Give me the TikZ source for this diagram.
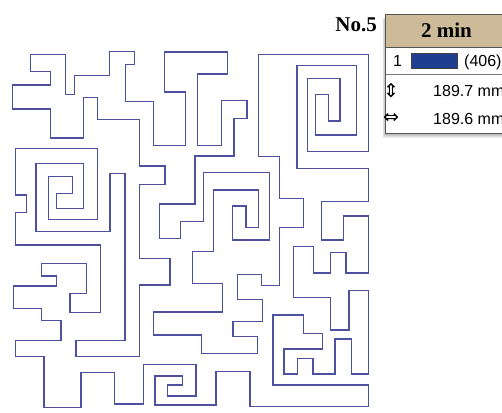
\documentclass[tikz,border=0pt]{standalone}
\usepackage{fontspec}
\setmainfont{Liberation Serif}
\setsansfont{Liberation Sans}
\newfontfamily\symfont{DejaVu Sans}
\definecolor{mazeblue}{RGB}{78,80,160}
\definecolor{headtan}{RGB}{204,186,152}
\definecolor{swatchblue}{RGB}{30,62,145}
\definecolor{boxgray}{RGB}{85,85,85}
\begin{document}
\begin{tikzpicture}[x=1pt,y=-1pt,
  maze/.style={draw=mazeblue,line width=1.15pt,line join=miter},
  rowtext/.style={font=\sffamily\fontsize{16}{16}\selectfont,inner sep=0pt,anchor=base west},
  symtext/.style={font=\symfont\fontsize{19}{19}\selectfont,inner sep=0pt},
  titletext/.style={font=\bfseries\fontsize{21}{21}\selectfont,inner sep=0pt}]
\useasboundingbox (0,0) rectangle (502,412);
\clip (0,0) rectangle (502,412);
\fill[white] (0,0) rectangle (502,412);
% maze: one closed line
\draw[maze] (153.5,145.5) -- (185.5,145.5) -- (185.5,92) -- (164.5,92) -- (164.5,52) -- (227.5,52) -- (227.5,74) -- (197.5,74) -- (197.5,145.5) -- (221.5,145.5) -- (221.5,100.5) -- (247,100.5) -- (247,118.5) -- (234,118.5) -- (234,156) -- (195,156) -- (195,204) -- (159.5,204) -- (159.5,238.5) -- (180.5,238.5) -- (180.5,221.5) -- (203.5,221.5) -- (203.5,172.5) -- (269.5,172.5) -- (269.5,240) -- (232.5,240) -- (232.5,206) -- (246,206) -- (246,227.5) -- (258.5,227.5) -- (258.5,190) -- (213.5,190) -- (213.5,251.5) -- (192.5,251.5) -- (192.5,283.5) -- (222.5,283.5) -- (222.5,312) -- (153.5,312) -- (153.5,335) -- (201.5,335) -- (201.5,353.5) -- (257.5,353.5) -- (257.5,336.5) -- (233,336.5) -- (233,321.5) -- (262.5,321.5) -- (262.5,299.5) -- (237.5,299.5) -- (237.5,274.5) -- (261.5,274.5) -- (261.5,285.5) -- (279.5,285.5) -- (279.5,227.5) -- (303.5,227.5) -- (303.5,198.5) -- (279.5,198.5) -- (279.5,156.5) -- (258.5,156.5) -- (258.5,54.5) -- (368.5,54.5) -- (368.5,151.5) -- (307.5,151.5) -- (307.5,78.5) -- (340,78.5) -- (340,121) -- (328.5,121) -- (328.5,94.5) -- (315.5,94.5) -- (315.5,135) -- (356.5,135) -- (356.5,65.5) -- (297,65.5) -- (297,168.5) -- (368.5,168.5) -- (368.5,201.5) -- (321.5,201.5) -- (321.5,240) -- (343.5,240) -- (343.5,216) -- (368.5,216) -- (368.5,273) -- (346,273) -- (346,252.5) -- (330.5,252.5) -- (330.5,273) -- (313.5,273) -- (313.5,246.5) -- (293.5,246.5) -- (293.5,297.5) -- (330.5,297.5) -- (330.5,330) -- (349,330) -- (349,290.5) -- (368.5,290.5) -- (368.5,374) -- (351.5,374) -- (351.5,339) -- (335,339) -- (335,374) -- (313,374) -- (313,358.5) -- (297.5,358.5) -- (297.5,374) -- (284,374) -- (284,349) -- (322.5,349) -- (322.5,333.5) -- (303.5,333.5) -- (303.5,315) -- (273,315) -- (273,385) -- (368.5,385) -- (368.5,406.5) -- (250,406.5) -- (250,371.5) -- (216,371.5) -- (216,405) -- (155,405) -- (155,376) -- (182.5,376) -- (182.5,385) -- (167.5,385) -- (167.5,396) -- (196,396) -- (196,364.5) -- (143.5,364.5) -- (143.5,404) -- (114.5,404) -- (114.5,372.5) -- (81,372.5) -- (81,407.5) -- (44,407.5) -- (44,356.5) -- (15.5,356.5) -- (15.5,340.5) -- (61,340.5) -- (61,320.5) -- (41.5,320.5) -- (41.5,308.5) -- (13.5,308.5) -- (13.5,286) -- (56.5,286) -- (56.5,276) -- (41.5,276) -- (41.5,263.5) -- (86.5,263.5) -- (86.5,293.5) -- (70,293.5) -- (70,312.5) -- (100.5,312.5) -- (100.5,245) -- (15.5,245) -- (15.5,212.5) -- (26.5,212.5) -- (26.5,195) -- (15.5,195) -- (15.5,148.5) -- (97.5,148.5) -- (97.5,219.5) -- (48.5,219.5) -- (48.5,176.5) -- (72.5,176.5) -- (72.5,193.5) -- (56.5,193.5) -- (56.5,208.5) -- (83.5,208.5) -- (83.5,163.5) -- (36,163.5) -- (36,231.5) -- (110,231.5) -- (110,173.5) -- (125,173.5) -- (125,340.5) -- (76,340.5) -- (76,356.5) -- (139.5,356.5) -- (139.5,285) -- (170,285) -- (170,258.5) -- (139.5,258.5) -- (139.5,184.5) -- (165,184.5) -- (165,166) -- (139.5,166) -- (139.5,119.5) -- (97.5,119.5) -- (97.5,97.5) -- (83.5,97.5) -- (83.5,138) -- (50.5,138) -- (50.5,109) -- (12.5,109) -- (12.5,85) -- (50.5,85) -- (50.5,71.5) -- (30.5,71.5) -- (30.5,54.5) -- (65.5,54.5) -- (65.5,94.5) -- (74.5,94.5) -- (74.5,75.5) -- (109.5,75.5) -- (109.5,51.5) -- (134.5,51.5) -- (134.5,64.5) -- (125.5,64.5) -- (125.5,101.5) -- (153.5,101.5) -- cycle;
% legend box shadow
\foreach \i in {1,...,5}
  \fill[black,opacity=0.07] (385.7-0.6*\i,14.3+0.9*\i) rectangle (520,133.3+0.9*\i);
\fill[white] (385.7,14.3) rectangle (520,133.3);
\fill[headtan] (385.7,14.3) rectangle (520,47.3);
\draw[boxgray,line width=0.8pt] (385.7,47.3) -- (520,47.3);
\draw[boxgray!80,line width=0.8pt] (385.7,74) -- (520,74);
\draw[boxgray,line width=0.9pt] (385.7,14.3) rectangle (520,133.3);
% texts
\node[titletext,anchor=base east] (no) at (377,31.5) {No.5};
\node[titletext,anchor=base] (hdr) at (446.5,37.5) {2 min};
\node[rowtext] (r1n) at (393,66) {1};
\node[draw=black!75,fill=swatchblue,line width=0.6pt,minimum width=46pt,minimum height=15pt,inner sep=0pt] (swatch) at (434.7,60.8) {};
\node[rowtext] (r1v) at (464,66) {(406)};
\node[symtext] (ud) at (391,90.5) {⇕};
\node[rowtext] (r2v) at (433,96) {189.7 mm};
\node[symtext] (lr) at (391,118.5) {⇔};
\node[rowtext] (r3v) at (433,124) {189.6 mm};
\end{tikzpicture}
\end{document}
